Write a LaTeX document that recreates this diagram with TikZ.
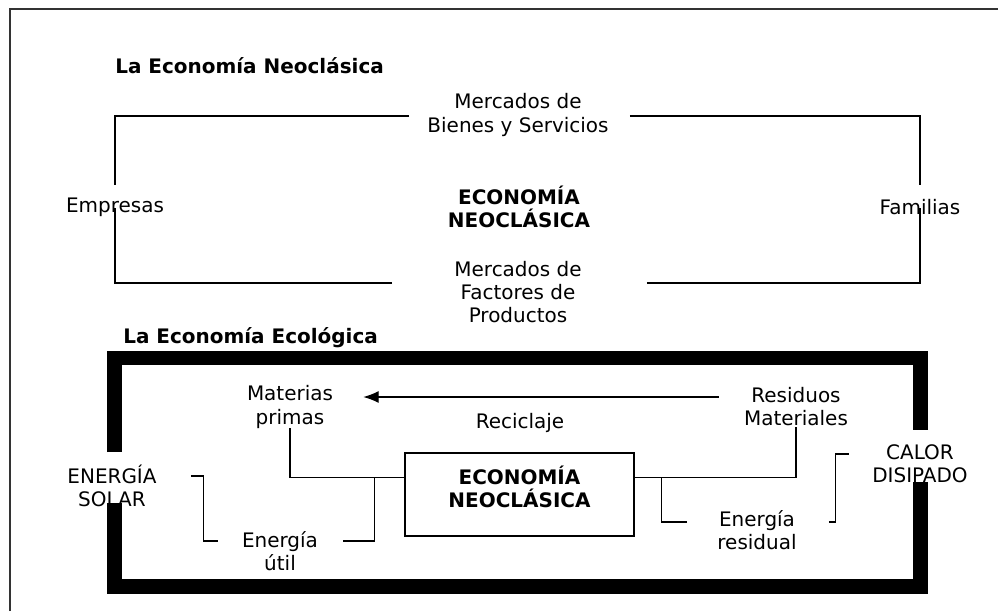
\documentclass[tikz,border=0pt]{standalone}
\usepackage{fontspec}
\setmainfont{DejaVu Sans}
\usetikzlibrary{arrows.meta, calc}

\begin{document}
\begin{tikzpicture}[x=0.025cm, y=-0.025cm,
    every node/.style={inner sep=0pt, align=center, font=\fontsize{14.2pt}{16.4pt}\selectfont},
    titulo/.style={anchor=west, font=\fontsize{14.2pt}{16.4pt}\selectfont\bfseries},
    negrita/.style={font=\fontsize{14.2pt}{16.4pt}\selectfont\bfseries},
    caja/.style={draw, line width=0.8pt, minimum width=5.725cm, minimum height=2.075cm},
    linea/.style={line width=0.8pt},
    flecha/.style={-{Latex[length=11pt, width=8.5pt]}, line width=0.8pt},
    muro/.style={line width=10.6pt},
    borde/.style={line width=1pt, black!80}]

\useasboundingbox (0,0) rectangle (998,611);
\draw[borde] (10,611) |- (998,9);

% economia neoclasica
\node[titulo] (tituloA) at (115,66) {La Economía Neoclásica};
\node (bienes) at (518,115) {Mercados de\\Bienes y Servicios};
\node (empresas) at (115,207) {Empresas};
\node (familias) at (920,207) {Familias};
\node[negrita] (neoA) at (519,207) {ECONOMÍA\\NEOCLÁSICA};
\node (factores) at (518,292) {Mercados de\\Factores de\\Productos};

\draw[linea] ($(bienes.west)+(-18,1)$) -| ($(empresas.center)+(0,-22)$);
\draw[linea] ($(bienes.east)+(21,1)$) -| ($(familias.center)+(0,-22)$);
\draw[linea] ($(factores.west)+(-62,-9)$) -| ($(empresas.center)+(0,1)$);
\draw[linea] ($(factores.east)+(65,-9)$) -| ($(familias.center)+(0,1)$);

% economia ecologica
\node[titulo] (tituloB) at (123,338) {La Economía Ecológica};
\coordinate (marcoNO) at (114.5,358);
\coordinate (marcoSO) at (114.5,586.5);

\node (solar) at (112,486) {ENERGÍA\\SOLAR};
\node (calor) at (920,464) {CALOR\\DISIPADO};
\node (materias) at (290,407) {Materias\\primas};
\node (residuos) at (796,407) {Residuos\\Materiales};
\node (reciclaje) at (520,423) {Reciclaje};
\node[caja] (neoB) at (519.5,494.5) {};
\node[negrita] (neoBtxt) at ($(neoB)+(0,-8)$) {ECONOMÍA\\NEOCLÁSICA};
\node (util) at (280,551) {Energía\\útil};
\node (residual) at (757,530) {Energía\\residual};

\draw[muro] ($(solar.center)+(2.5,-34)$) -- (marcoNO) -| ($(calor.center)+(0.5,-34)$);
\draw[muro] ($(solar.center)+(2.5,17)$) -- (marcoSO) -| ($(calor.center)+(0.5,18)$);

\coordinate (entra) at ($(neoB.north west)+(0,25)$);
\coordinate (salida) at ($(neoB.north east)+(0,25)$);
\coordinate (nodoIzq) at ($(entra)+(-30,0)$);
\coordinate (nodoDer) at ($(salida)+(27,0)$);

\draw[flecha] ($(residuos.west)+(-25,-10)$) -- ($(materias.east)+(30,-10)$);
\draw[linea] (materias.south) |- (entra);
\draw[linea] ($(util.east)+(25,-10)$) -| (nodoIzq);
\draw[linea] (salida) -| (residuos.south);
\draw[linea] ($(residual.west)+(-30,-8)$) -| (nodoDer);
\draw[linea] ($(solar.east)+(34,-10)$) -- ++(13,0) |- ($(util.west)+(-24,-10)$);
\draw[linea] ($(residual.east)+(32,-8)$) -- ++(7,0) |- ($(calor.west)+(-23,-10)$);

\end{tikzpicture}
\end{document}
